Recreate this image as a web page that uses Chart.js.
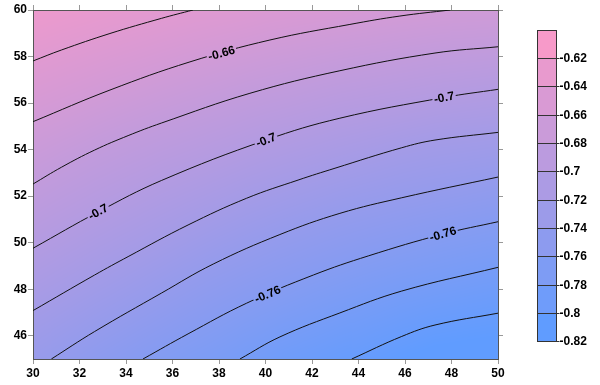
<!DOCTYPE html>
<html>
<head>
<meta charset="utf-8">
<script src="https://cdn.jsdelivr.net/npm/chart.js@4.4.1/dist/chart.umd.min.js"></script>
<style>
html,body{margin:0;padding:0;background:#fff;}
canvas{display:block;}
</style>
</head>
<body>
<canvas id="c" width="600" height="385"></canvas>
<script>
// ---------- data ----------
const xTicks = [30, 32, 34, 36, 38, 40, 42, 44, 46, 48, 50];
const yTicks = [46, 48, 50, 52, 54, 56, 58, 60];

const levels = [-0.64, -0.66, -0.68, -0.70, -0.72, -0.74, -0.76, -0.78, -0.80];

const contour064 = [[30,57.81],[31.22,58.28],[33.31,58.99],[35.52,59.64],[36.88,60]];
const contour066 = [[30,55.20],[33.31,56.56],[36.75,57.77],[40.19,58.71],[43.63,59.38],[45.78,59.74],[47.94,60]];
const contour068 = [[30,52.52],[31.22,53.24],[32.65,53.98],[34.09,54.60],[35.52,55.14],[39.33,56.42],[43.20,57.39],[47.29,58.15],[50,58.42]];
const contour070 = [[30,49.76],[32.80,51.32],[35.52,52.67],[40.02,54.41],[43.20,55.35],[47.68,56.24],[50,56.59]];
const contour072 = [[30,47.08],[32.65,48.61],[34.09,49.40],[36.67,50.76],[39.19,51.91],[41.40,52.69],[42.99,53.20],[45.86,54.08],[47.29,54.41],[50,54.74]];
const contour074 = [[30.79,45.00],[32.65,46.18],[35.52,47.83],[37.75,49.08],[40.62,50.35],[43.20,51.26],[45.86,51.93],[50,52.82]];
const contour076 = [[34.73,45.00],[36.67,46.08],[39.19,47.40],[42.06,48.61],[44.42,49.43],[47.63,50.37],[50,50.90]];
const contour078 = [[38.90,45.00],[40.62,45.95],[43.20,46.98],[45.86,47.92],[50,48.94]];
const contour080 = [[43.71,45.00],[45.86,45.97],[47.29,46.46],[50,46.97]];

const contours = [contour064, contour066, contour068, contour070, contour072, contour074, contour076, contour078, contour080];

// in-line contour labels: text, which contour, x position
const labelText = ['-0.66', '-0.7', '-0.7', '-0.7', '-0.76', '-0.76'];
const labelLine = [1, 3, 3, 3, 6, 6];
const labelX    = [38.11, 32.80, 40.02, 47.68, 40.09, 47.63];

// colour bar
const barEdges  = [-0.60, -0.62, -0.64, -0.66, -0.68, -0.70, -0.72, -0.74, -0.76, -0.78, -0.80, -0.82];
const barLabels = ['-0.62', '-0.64', '-0.66', '-0.68', '-0.7', '-0.72', '-0.74', '-0.76', '-0.78', '-0.8', '-0.82'];

// ---------- colour map ----------
const PINK = [247, 154, 201];
const BLUE = [96, 156, 255];
function colorFor(v) {
  let t = (-0.61 - v) / 0.20;
  t = Math.max(0, Math.min(1, t));
  return [0, 1, 2].map(i => Math.round(PINK[i] + (BLUE[i] - PINK[i]) * t));
}
function css(c) { return 'rgb(' + c[0] + ',' + c[1] + ',' + c[2] + ')'; }

const FONT = '"Liberation Sans", Arial, Helvetica, sans-serif';

// ---------- plugins ----------
const fieldPlugin = {
  id: 'field',
  beforeDraw(chart) {
    const { ctx, chartArea: a, scales } = chart;
    const xs = scales.x, ys = scales.y;
    const L = Math.round(a.left), T = Math.round(a.top);
    const W = Math.round(a.right) - L, H = Math.round(a.bottom) - T;
    const off = document.createElement('canvas');
    off.width = W; off.height = H;
    const octx = off.getContext('2d');
    const img = octx.createImageData(W, H);
    for (let i = 0; i < W; i++) {
      const dx = xs.getValueForPixel(L + i + 0.5);
      const hits = [];
      contours.forEach((pts, k) => {
        if (dx < pts[0][0] || dx > pts[pts.length - 1][0]) return;
        for (let m = 0; m < pts.length - 1; m++) {
          const p = pts[m], q = pts[m + 1];
          if (dx >= p[0] && dx <= q[0]) {
            const t = (dx - p[0]) / (q[0] - p[0]);
            hits.push([ys.getPixelForValue(p[1] + (q[1] - p[1]) * t), levels[k]]);
            break;
          }
        }
      });
      hits.sort((u, w) => u[0] - w[0]);
      for (let j = 0; j < H; j++) {
        const py = T + j + 0.5;
        let m = 0;
        while (m < hits.length - 2 && py > hits[m + 1][0]) m++;
        const A = hits[m], B = hits[m + 1];
        const v = A[1] + (B[1] - A[1]) * (py - A[0]) / (B[0] - A[0]);
        const c = colorFor(v);
        const idx = (j * W + i) * 4;
        img.data[idx] = c[0]; img.data[idx + 1] = c[1]; img.data[idx + 2] = c[2]; img.data[idx + 3] = 255;
      }
    }
    octx.putImageData(img, 0, 0);
    ctx.drawImage(off, L, T);
  }
};

const labelPlugin = {
  id: 'contourLabels',
  afterDatasetsDraw(chart) {
    const ctx = chart.ctx;
    const xs = chart.scales.x;
    labelText.forEach((txt, n) => {
      const k = labelLine[n];
      const pts = chart.getDatasetMeta(k).data;
      const px = xs.getPixelForValue(labelX[n]);
      let m = 0;
      while (m < pts.length - 2 && px > pts[m + 1].x) m++;
      const p = pts[m], q = pts[m + 1];
      const t = (px - p.x) / (q.x - p.x);
      const py = p.y + (q.y - p.y) * t;
      const ang = Math.atan2(q.y - p.y, q.x - p.x);
      ctx.save();
      ctx.translate(px, py);
      ctx.rotate(ang);
      ctx.font = 'bold 12px ' + FONT;
      const w = ctx.measureText(txt).width;
      ctx.fillStyle = css(colorFor(levels[k]));
      ctx.fillRect(-w / 2 - 1.5, -2.5, w + 3, 5);
      ctx.fillStyle = '#000';
      ctx.textAlign = 'center';
      ctx.textBaseline = 'middle';
      ctx.fillText(txt, 0, 0.5);
      ctx.restore();
    });
  }
};

const colorBarPlugin = {
  id: 'colorBar',
  afterDraw(chart) {
    const ctx = chart.ctx;
    const x0 = 537.5, x1 = 556.5;
    const top = 29.5, bandH = 28.35;
    ctx.save();
    for (let i = 0; i < barEdges.length - 1; i++) {
      const y0 = Math.round(top + i * bandH), y1 = Math.round(top + (i + 1) * bandH);
      ctx.fillStyle = css(colorFor((barEdges[i] + barEdges[i + 1]) / 2));
      ctx.fillRect(x0, y0, x1 - x0, y1 - y0);
    }
    ctx.strokeStyle = '#333';
    ctx.lineWidth = 1;
    ctx.strokeRect(x0, Math.round(top) + 0.5, x1 - x0, Math.round(top + (barEdges.length - 1) * bandH) - Math.round(top));
    ctx.font = 'bold 12px ' + FONT;
    ctx.fillStyle = '#000';
    ctx.textAlign = 'left';
    ctx.textBaseline = 'middle';
    for (let i = 1; i < barEdges.length; i++) {
      const y = Math.round(top + i * bandH) + 0.5;
      ctx.beginPath();
      ctx.moveTo(x0, y);
      ctx.lineTo(x1 + 3, y);
      ctx.stroke();
      ctx.fillText(barLabels[i - 1], 559.5, y + 0.5);
    }
    ctx.restore();
  }
};

// ---------- chart ----------
const tickFont = { family: FONT, size: 12, weight: 'bold' };
const gridOpts = { display: true, drawOnChartArea: false, drawTicks: true, tickLength: 5, color: '#999', tickColor: '#999' };
const borderOpts = { display: true, color: '#555', width: 1 };

const datasets = contours.map((pts, k) => ({
  label: String(levels[k]),
  data: pts.map(p => ({ x: p[0], y: p[1] })),
  showLine: true,
  borderColor: '#111',
  borderWidth: 1,
  pointRadius: 0,
  pointHoverRadius: 0,
  fill: false,
  tension: 0.4,
  cubicInterpolationMode: 'default',
  xAxisID: 'x',
  yAxisID: 'y'
}));

new Chart(document.getElementById('c'), {
  type: 'scatter',
  data: { datasets },
  plugins: [fieldPlugin, labelPlugin, colorBarPlugin],
  options: {
    responsive: false,
    devicePixelRatio: 1,
    animation: false,
    events: [],
    layout: { padding: 0 },
    plugins: { legend: { display: false }, tooltip: { enabled: false }, title: { display: false } },
    scales: {
      x: {
        type: 'linear', position: 'bottom', min: 30, max: 50,
        afterBuildTicks: s => { s.ticks = xTicks.map(v => ({ value: v })); },
        afterFit: s => { s.height = 26; },
        grid: gridOpts, border: borderOpts,
        ticks: { font: tickFont, color: '#000', padding: 2, maxRotation: 0, autoSkip: false }
      },
      y: {
        type: 'linear', position: 'left', min: 45, max: 60,
        afterBuildTicks: s => { s.ticks = yTicks.map(v => ({ value: v })); },
        afterFit: s => { s.width = 33; },
        grid: gridOpts, border: borderOpts,
        ticks: { font: tickFont, color: '#000', padding: 1, autoSkip: false }
      },
      xTop: {
        type: 'linear', position: 'top', min: 30, max: 50,
        afterBuildTicks: s => { s.ticks = xTicks.map(v => ({ value: v })); },
        afterFit: s => { s.height = 10; },
        grid: gridOpts, border: borderOpts,
        ticks: { display: false }
      },
      yRight: {
        type: 'linear', position: 'right', min: 45, max: 60,
        afterBuildTicks: s => { s.ticks = yTicks.map(v => ({ value: v })); },
        afterFit: s => { s.width = 102; },
        grid: gridOpts, border: borderOpts,
        ticks: { display: false }
      }
    }
  }
});
</script>
</body>
</html>
